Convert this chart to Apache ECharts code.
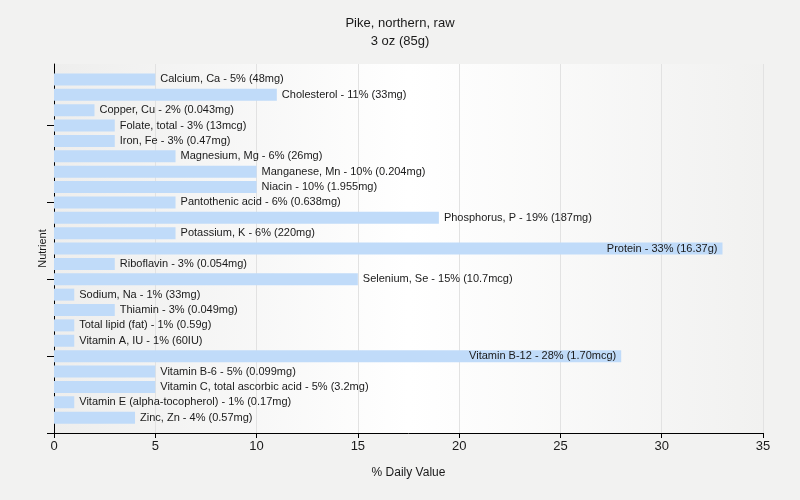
<!DOCTYPE html>
<html>
<head>
<meta charset="utf-8">
<script src="https://cdn.jsdelivr.net/npm/echarts@6/dist/echarts.min.js"></script>
<style>
html,body{margin:0;padding:0;background:#f2f2f1;}
#main{width:800px;height:500px;}
</style>
</head>
<body>
<div id="main"></div>
<script>
// Data (top to bottom as shown)
const nutrients = ['Calcium, Ca','Cholesterol','Copper, Cu','Folate, total','Iron, Fe','Magnesium, Mg','Manganese, Mn','Niacin','Pantothenic acid','Phosphorus, P','Potassium, K','Protein','Riboflavin','Selenium, Se','Sodium, Na','Thiamin','Total lipid (fat)','Vitamin A, IU','Vitamin B-12','Vitamin B-6','Vitamin C, total ascorbic acid','Vitamin E (alpha-tocopherol)','Zinc, Zn'];
const dailyValues = [5,11,2,3,3,6,10,10,6,19,6,33,3,15,1,3,1,1,28,5,5,1,4];
const amounts = ['48mg','33mg','0.043mg','13mcg','0.47mg','26mg','0.204mg','1.955mg','0.638mg','187mg','220mg','16.37g','0.054mg','10.7mcg','33mg','0.049mg','0.59g','60IU','1.70mcg','0.099mg','3.2mg','0.17mg','0.57mg'];
const xTicks = [0,5,10,15,20,25,30,35];

const cats = [''].concat(nutrients).concat(['']);
const seriesData = [null].concat(nutrients.map((n,i)=>({
  value: dailyValues[i],
  label: {
    position: dailyValues[i] > 25 ? 'insideRight' : 'right',
    distance: 5,
    formatter: n + ' - ' + dailyValues[i] + '% (' + amounts[i] + ')'
  }
}))).concat([null]);

const chart = echarts.init(document.getElementById('main'));
const font = 'Liberation Sans';
chart.setOption({
  backgroundColor: '#f2f2f1',
  animation: false,
  title: {
    text: 'Pike, northern, raw\n3 oz (85g)',
    left: 'center', top: 9,
    textStyle: {fontFamily: font, fontSize: 13, fontWeight: 'normal', color: '#1a1a1a', lineHeight: 18}
  },
  grid: {
    left: 54, right: 37, top: 64, bottom: 67,
    show: true, borderWidth: 0,
    backgroundColor: {type:'linear', x:0, y:0, x2:1, y2:0, colorStops:[
      {offset:0, color:'#eeeeed'},{offset:0.5, color:'#ffffff'},{offset:1, color:'#f1f1f0'}]}
  },
  xAxis: {
    type: 'value', min: xTicks[0], max: xTicks[xTicks.length-1], interval: 5,
    name: '% Daily Value', nameLocation: 'middle', nameGap: 34,
    nameTextStyle: {fontFamily: font, fontSize: 12, color: '#1a1a1a'},
    axisLine: {show: true, lineStyle: {color: '#000', width: 1}},
    axisTick: {show: true, length: 5, lineStyle: {color: '#000'}},
    axisLabel: {fontFamily: font, fontSize: 13, color: '#1a1a1a', margin: 7},
    splitLine: {show: true, lineStyle: {color: '#e2e2e2', width: 1}}
  },
  yAxis: {
    type: 'category', data: cats, inverse: true, boundaryGap: false,
    name: 'Nutrient', nameLocation: 'middle', nameGap: 6, nameRotate: 90,
    nameTextStyle: {fontFamily: font, fontSize: 11, color: '#1a1a1a'},
    axisLine: {show: true, lineStyle: {color: '#000', width: 1}},
    axisTick: {show: true, length: 7, lineStyle: {color: '#000'},
      interval: function(idx){ return (cats.length - 1 - idx) % 5 === 0; }},
    axisLabel: {show: false},
    splitLine: {show: false}
  },
  series: [{
    type: 'bar', data: seriesData, barWidth: 12,
    itemStyle: {color: '#c0dbf9'},
    label: {show: true, fontFamily: font, fontSize: 11, color: '#1a1a1a'}
  }]
});
</script>
</body>
</html>
